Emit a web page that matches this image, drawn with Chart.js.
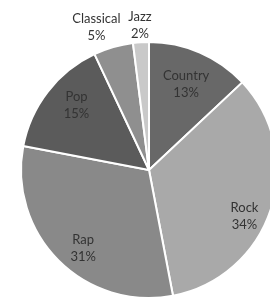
<!DOCTYPE html>
<html>
<head>
<meta charset="utf-8">
<script src="https://cdn.jsdelivr.net/npm/chart.js@4/dist/chart.umd.min.js"></script>
<style>
  html, body { margin: 0; padding: 0; background: #fff; overflow: hidden; }
  body { width: 270px; height: 304px; position: relative; }
  #wrap { position: absolute; left: 0; top: 0; width: 298px; height: 340px; }
</style>
</head>
<body>
<div id="wrap"><canvas id="myChart" width="298" height="340"></canvas></div>
<script>
  /* Chart data
  -----------------------------------------------*/
  const genres = ['Country', 'Rock', 'Rap', 'Pop', 'Classical', 'Jazz'];
  const shares = [13, 34, 31, 15, 5, 2];
  const sliceColors = ['#686868', '#a9a9a9', '#898989', '#5b5b5b', '#8f8f8f', '#c9c9c9'];

  // labels: name on one line, percent under it (best-fit style placement)
  const sliceLabels = {
    id: 'sliceLabels',
    afterDatasetsDraw(chart, args, opts) {
      const ctx = chart.ctx;
      const meta = chart.getDatasetMeta(0);
      ctx.save();
      ctx.font = '13px Lato';
      ctx.fillStyle = '#333333';
      ctx.textAlign = 'center';
      ctx.textBaseline = 'middle';
      meta.data.forEach(function(arc, i) {
        const mid = (arc.startAngle + arc.endAngle) / 2 + opts.nudge[i] * Math.PI / 180;
        const r = arc.outerRadius * opts.radius[i];
        const x = arc.x + Math.cos(mid) * r;
        const y = arc.y + Math.sin(mid) * r;
        ctx.fillText(genres[i], x, y - 8.5);
        ctx.fillText(shares[i] + '%', x, y + 8.5);
      });
      ctx.restore();
    }
  };

  function drawPie() {
    let ctx = document.getElementById('myChart').getContext('2d');
    new Chart(ctx, {
      type: 'pie',
      data: {
        labels: genres,
        datasets: [{
          data: shares,
          backgroundColor: sliceColors,
          borderColor: '#ffffff',
          borderWidth: 2
        }]
      },
      options: {
        responsive: false,
        animation: false,
        layout: { padding: { left: 20, right: 20, top: 41, bottom: 41 } },
        plugins: {
          legend: { display: false },
          tooltip: { enabled: false },
          sliceLabels: {
            radius: [0.73, 0.83, 0.8, 0.76, 1.19, 1.13],
            nudge: [0, 8, -5, 4, -4, 0]
          }
        }
      },
      plugins: [sliceLabels]
    });
  }
  drawPie();
</script>
</body>
</html>
